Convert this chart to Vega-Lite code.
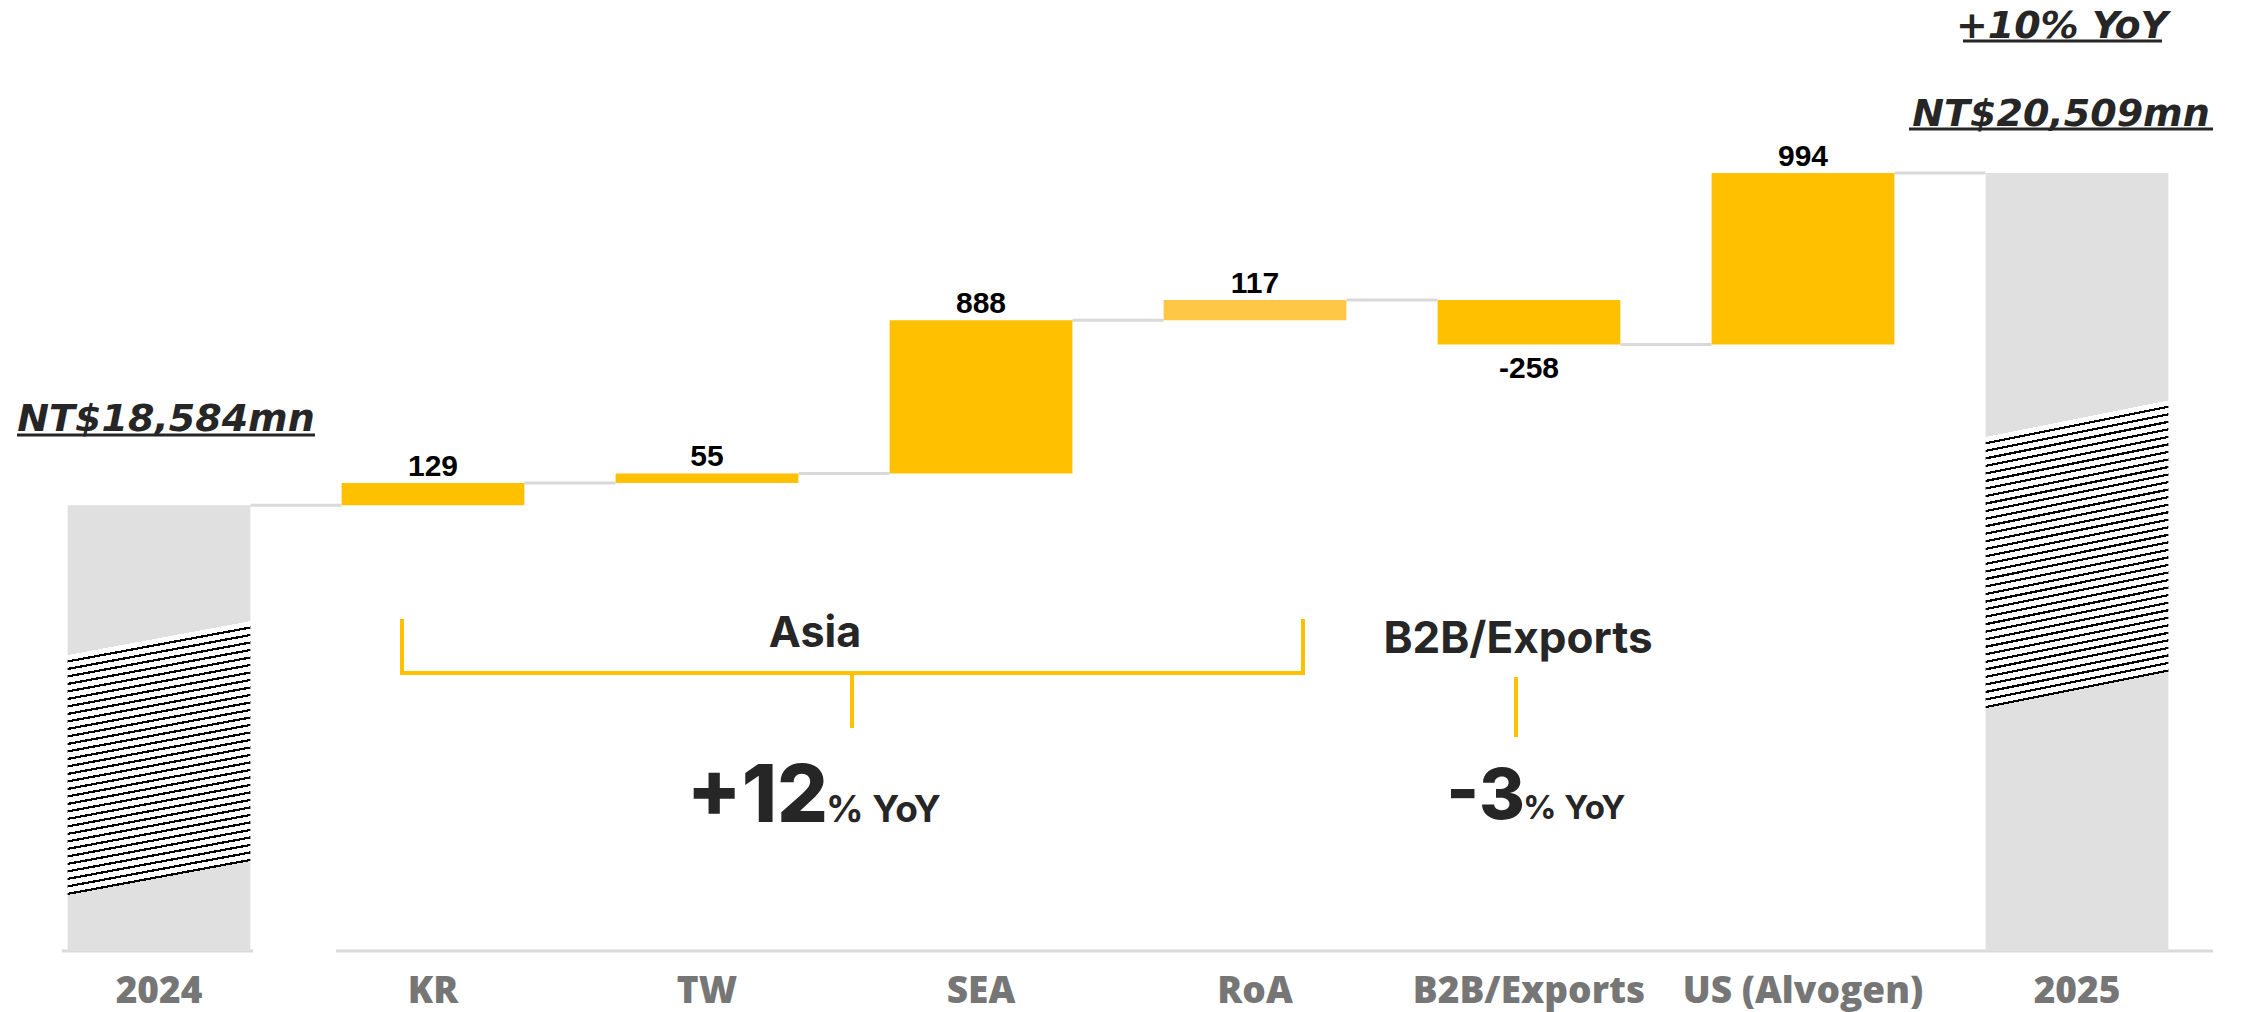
{
"$schema":"https://vega.github.io/schema/vega-lite/v6.json",
"autosize":{"type":"none"},
"width":2192,"height":949,
"padding":{"left":22,"top":2,"right":28,"bottom":61},
"background":"white",
"config":{"view":{"stroke":null},
"axisX":{"labelFont":"Open Sans","labelFontWeight":800,"labelFontSize":37,"labelColor":"#767676","labelPadding":51,"labelBaseline":"alphabetic","labelAngle":0,"labelLimit":0,"domain":false,"ticks":false,"tickSize":0,"grid":false},
"axisY":{"disable":true}},
"data":{"values":[
{"cat":"2024","start":0,"end":18584,"label":"","type":"total","next":"KR"},
{"cat":"KR","start":18584,"end":18713,"label":"129","type":"up","next":"TW"},
{"cat":"TW","start":18713,"end":18768,"label":"55","type":"up","next":"SEA"},
{"cat":"SEA","start":18768,"end":19656,"label":"888","type":"up","next":"RoA"},
{"cat":"RoA","start":19656,"end":19773,"label":"117","type":"light","next":"B2B/Exports"},
{"cat":"B2B/Exports","start":19773,"end":19515,"label":"-258","type":"down","next":"US (Alvogen)"},
{"cat":"US (Alvogen)","start":19515,"end":20509,"label":"994","type":"up","next":"2025"},
{"cat":"2025","start":0,"end":20509,"label":"","type":"total","next":null}
]},
"layer":[
{"data":{"values":[{}]},"mark":{"type":"rule","color":"#D9D9D9","strokeWidth":3,"xOffset":-97,"x2Offset":94},
"encoding":{"x":{"datum":"2024","type":"nominal"},"x2":{"datum":"2024"},"y":{"datum":16000,"type":"quantitative","axis":null}}},
{"data":{"values":[{}]},"mark":{"type":"rule","color":"#D9D9D9","strokeWidth":3,"xOffset":-97,"x2Offset":136},
"encoding":{"x":{"datum":"KR","type":"nominal"},"x2":{"datum":"2025"},"y":{"datum":16000,"type":"quantitative","axis":null}}},
{"transform":[{"filter":"datum.next != null"}],
"mark":{"type":"rule","color":"#D9D9D9","strokeWidth":3,"xOffset":91.5,"x2Offset":-91.5},
"encoding":{"x":{"field":"cat","type":"nominal","sort":null,"title":null,"scale":{"domain":["2024","KR","TW","SEA","RoA","B2B/Exports","US (Alvogen)","2025"],"paddingInner":0.333,"paddingOuter":0.1665}},
"x2":{"field":"next"},
"y":{"field":"end","type":"quantitative","axis":null,"scale":{"domain":[16000,21500],"nice":false,"zero":false,"clamp":true}}}},
{"transform":[{"filter":"datum.type != 'total'"}],
"mark":{"type":"bar"},
"encoding":{"x":{"field":"cat","type":"nominal","sort":null,"title":null},
"y":{"field":"end","type":"quantitative","axis":null},"y2":{"field":"start"},
"color":{"field":"type","type":"nominal","legend":null,"scale":{"domain":["up","light","down"],"range":["#FFC000","#FFC745","#FFC000"]}}}},
{"transform":[{"filter":"datum.cat == '2024'"}],
"mark":{"type":"bar","color":{"gradient":"linear","x1":0,"y1":0,"x2":0.0815,"y2":1.07,"stops":[
{"offset":0,"color":"#e0e0e0"},{"offset":0.3125,"color":"#e0e0e0"},{"offset":0.3125,"color":"#fff"},
{"offset":0.3234375,"color":"#fff"},{"offset":0.3234375,"color":"#000"},{"offset":0.328125,"color":"#000"},{"offset":0.328125,"color":"#fff"},
{"offset":0.3390625,"color":"#fff"},{"offset":0.3390625,"color":"#000"},{"offset":0.34375,"color":"#000"},{"offset":0.34375,"color":"#fff"},
{"offset":0.3546875,"color":"#fff"},{"offset":0.3546875,"color":"#000"},{"offset":0.359375,"color":"#000"},{"offset":0.359375,"color":"#fff"},
{"offset":0.3703125,"color":"#fff"},{"offset":0.3703125,"color":"#000"},{"offset":0.375,"color":"#000"},{"offset":0.375,"color":"#fff"},
{"offset":0.3859375,"color":"#fff"},{"offset":0.3859375,"color":"#000"},{"offset":0.390625,"color":"#000"},{"offset":0.390625,"color":"#fff"},
{"offset":0.4015625,"color":"#fff"},{"offset":0.4015625,"color":"#000"},{"offset":0.40625,"color":"#000"},{"offset":0.40625,"color":"#fff"},
{"offset":0.4171875,"color":"#fff"},{"offset":0.4171875,"color":"#000"},{"offset":0.421875,"color":"#000"},{"offset":0.421875,"color":"#fff"},
{"offset":0.4328125,"color":"#fff"},{"offset":0.4328125,"color":"#000"},{"offset":0.4375,"color":"#000"},{"offset":0.4375,"color":"#fff"},
{"offset":0.4484375,"color":"#fff"},{"offset":0.4484375,"color":"#000"},{"offset":0.453125,"color":"#000"},{"offset":0.453125,"color":"#fff"},
{"offset":0.4640625,"color":"#fff"},{"offset":0.4640625,"color":"#000"},{"offset":0.46875,"color":"#000"},{"offset":0.46875,"color":"#fff"},
{"offset":0.4796875,"color":"#fff"},{"offset":0.4796875,"color":"#000"},{"offset":0.484375,"color":"#000"},{"offset":0.484375,"color":"#fff"},
{"offset":0.4953125,"color":"#fff"},{"offset":0.4953125,"color":"#000"},{"offset":0.5,"color":"#000"},{"offset":0.5,"color":"#fff"},
{"offset":0.5109375,"color":"#fff"},{"offset":0.5109375,"color":"#000"},{"offset":0.515625,"color":"#000"},{"offset":0.515625,"color":"#fff"},
{"offset":0.5265625,"color":"#fff"},{"offset":0.5265625,"color":"#000"},{"offset":0.53125,"color":"#000"},{"offset":0.53125,"color":"#fff"},
{"offset":0.5421875,"color":"#fff"},{"offset":0.5421875,"color":"#000"},{"offset":0.546875,"color":"#000"},{"offset":0.546875,"color":"#fff"},
{"offset":0.5578125,"color":"#fff"},{"offset":0.5578125,"color":"#000"},{"offset":0.5625,"color":"#000"},{"offset":0.5625,"color":"#fff"},
{"offset":0.5734375,"color":"#fff"},{"offset":0.5734375,"color":"#000"},{"offset":0.578125,"color":"#000"},{"offset":0.578125,"color":"#fff"},
{"offset":0.5890625,"color":"#fff"},{"offset":0.5890625,"color":"#000"},{"offset":0.59375,"color":"#000"},{"offset":0.59375,"color":"#fff"},
{"offset":0.6046875,"color":"#fff"},{"offset":0.6046875,"color":"#000"},{"offset":0.609375,"color":"#000"},{"offset":0.609375,"color":"#fff"},
{"offset":0.6203125,"color":"#fff"},{"offset":0.6203125,"color":"#000"},{"offset":0.625,"color":"#000"},{"offset":0.625,"color":"#fff"},
{"offset":0.6359375,"color":"#fff"},{"offset":0.6359375,"color":"#000"},{"offset":0.640625,"color":"#000"},{"offset":0.640625,"color":"#fff"},
{"offset":0.6515625,"color":"#fff"},{"offset":0.6515625,"color":"#000"},{"offset":0.65625,"color":"#000"},{"offset":0.65625,"color":"#fff"},
{"offset":0.6671875,"color":"#fff"},{"offset":0.6671875,"color":"#000"},{"offset":0.671875,"color":"#000"},{"offset":0.671875,"color":"#fff"},
{"offset":0.6828125,"color":"#fff"},{"offset":0.6828125,"color":"#000"},{"offset":0.6875,"color":"#000"},{"offset":0.6875,"color":"#fff"},
{"offset":0.6984375,"color":"#fff"},{"offset":0.6984375,"color":"#000"},{"offset":0.703125,"color":"#000"},{"offset":0.703125,"color":"#fff"},
{"offset":0.7140625,"color":"#fff"},{"offset":0.7140625,"color":"#000"},{"offset":0.71875,"color":"#000"},{"offset":0.71875,"color":"#fff"},
{"offset":0.7296875,"color":"#fff"},{"offset":0.7296875,"color":"#000"},{"offset":0.734375,"color":"#000"},{"offset":0.734375,"color":"#fff"},
{"offset":0.7453125,"color":"#fff"},{"offset":0.7453125,"color":"#000"},{"offset":0.75,"color":"#000"},{"offset":0.75,"color":"#fff"},
{"offset":0.7609375,"color":"#fff"},{"offset":0.7609375,"color":"#000"},{"offset":0.765625,"color":"#000"},{"offset":0.765625,"color":"#fff"},
{"offset":0.7765625,"color":"#fff"},{"offset":0.7765625,"color":"#000"},{"offset":0.78125,"color":"#000"},{"offset":0.78125,"color":"#fff"},
{"offset":0.7921875,"color":"#fff"},{"offset":0.7921875,"color":"#000"},{"offset":0.796875,"color":"#000"},{"offset":0.796875,"color":"#fff"},
{"offset":0.8078125,"color":"#fff"},{"offset":0.8078125,"color":"#000"},{"offset":0.8125,"color":"#000"},
{"offset":0.8125,"color":"#e0e0e0"},{"offset":1,"color":"#e0e0e0"}]}},
"encoding":{"x":{"field":"cat","type":"nominal","sort":null,"title":null},
"y":{"field":"end","type":"quantitative","axis":null},"y2":{"field":"start"}}},
{"transform":[{"filter":"datum.cat == '2025'"}],
"mark":{"type":"bar","color":{"gradient":"linear","x1":0,"y1":0,"x2":0.0491,"y2":1.0447,"stops":[
{"offset":0,"color":"#e0e0e0"},{"offset":0.324,"color":"#e0e0e0"},{"offset":0.324,"color":"#fff"},
{"offset":0.330475,"color":"#fff"},{"offset":0.330475,"color":"#000"},{"offset":0.33325,"color":"#000"},{"offset":0.33325,"color":"#fff"},
{"offset":0.339725,"color":"#fff"},{"offset":0.339725,"color":"#000"},{"offset":0.3425,"color":"#000"},{"offset":0.3425,"color":"#fff"},
{"offset":0.348975,"color":"#fff"},{"offset":0.348975,"color":"#000"},{"offset":0.35175,"color":"#000"},{"offset":0.35175,"color":"#fff"},
{"offset":0.358225,"color":"#fff"},{"offset":0.358225,"color":"#000"},{"offset":0.361,"color":"#000"},{"offset":0.361,"color":"#fff"},
{"offset":0.367475,"color":"#fff"},{"offset":0.367475,"color":"#000"},{"offset":0.37025,"color":"#000"},{"offset":0.37025,"color":"#fff"},
{"offset":0.376725,"color":"#fff"},{"offset":0.376725,"color":"#000"},{"offset":0.3795,"color":"#000"},{"offset":0.3795,"color":"#fff"},
{"offset":0.385975,"color":"#fff"},{"offset":0.385975,"color":"#000"},{"offset":0.38875,"color":"#000"},{"offset":0.38875,"color":"#fff"},
{"offset":0.395225,"color":"#fff"},{"offset":0.395225,"color":"#000"},{"offset":0.398,"color":"#000"},{"offset":0.398,"color":"#fff"},
{"offset":0.404475,"color":"#fff"},{"offset":0.404475,"color":"#000"},{"offset":0.40725,"color":"#000"},{"offset":0.40725,"color":"#fff"},
{"offset":0.413725,"color":"#fff"},{"offset":0.413725,"color":"#000"},{"offset":0.4165,"color":"#000"},{"offset":0.4165,"color":"#fff"},
{"offset":0.422975,"color":"#fff"},{"offset":0.422975,"color":"#000"},{"offset":0.42575,"color":"#000"},{"offset":0.42575,"color":"#fff"},
{"offset":0.432225,"color":"#fff"},{"offset":0.432225,"color":"#000"},{"offset":0.435,"color":"#000"},{"offset":0.435,"color":"#fff"},
{"offset":0.441475,"color":"#fff"},{"offset":0.441475,"color":"#000"},{"offset":0.44425,"color":"#000"},{"offset":0.44425,"color":"#fff"},
{"offset":0.450725,"color":"#fff"},{"offset":0.450725,"color":"#000"},{"offset":0.4535,"color":"#000"},{"offset":0.4535,"color":"#fff"},
{"offset":0.459975,"color":"#fff"},{"offset":0.459975,"color":"#000"},{"offset":0.46275,"color":"#000"},{"offset":0.46275,"color":"#fff"},
{"offset":0.469225,"color":"#fff"},{"offset":0.469225,"color":"#000"},{"offset":0.472,"color":"#000"},{"offset":0.472,"color":"#fff"},
{"offset":0.478475,"color":"#fff"},{"offset":0.478475,"color":"#000"},{"offset":0.48125,"color":"#000"},{"offset":0.48125,"color":"#fff"},
{"offset":0.487725,"color":"#fff"},{"offset":0.487725,"color":"#000"},{"offset":0.4905,"color":"#000"},{"offset":0.4905,"color":"#fff"},
{"offset":0.496975,"color":"#fff"},{"offset":0.496975,"color":"#000"},{"offset":0.49975,"color":"#000"},{"offset":0.49975,"color":"#fff"},
{"offset":0.506225,"color":"#fff"},{"offset":0.506225,"color":"#000"},{"offset":0.509,"color":"#000"},{"offset":0.509,"color":"#fff"},
{"offset":0.515475,"color":"#fff"},{"offset":0.515475,"color":"#000"},{"offset":0.51825,"color":"#000"},{"offset":0.51825,"color":"#fff"},
{"offset":0.524725,"color":"#fff"},{"offset":0.524725,"color":"#000"},{"offset":0.5275,"color":"#000"},{"offset":0.5275,"color":"#fff"},
{"offset":0.533975,"color":"#fff"},{"offset":0.533975,"color":"#000"},{"offset":0.53675,"color":"#000"},{"offset":0.53675,"color":"#fff"},
{"offset":0.543225,"color":"#fff"},{"offset":0.543225,"color":"#000"},{"offset":0.546,"color":"#000"},{"offset":0.546,"color":"#fff"},
{"offset":0.552475,"color":"#fff"},{"offset":0.552475,"color":"#000"},{"offset":0.55525,"color":"#000"},{"offset":0.55525,"color":"#fff"},
{"offset":0.561725,"color":"#fff"},{"offset":0.561725,"color":"#000"},{"offset":0.5645,"color":"#000"},{"offset":0.5645,"color":"#fff"},
{"offset":0.570975,"color":"#fff"},{"offset":0.570975,"color":"#000"},{"offset":0.57375,"color":"#000"},{"offset":0.57375,"color":"#fff"},
{"offset":0.580225,"color":"#fff"},{"offset":0.580225,"color":"#000"},{"offset":0.583,"color":"#000"},{"offset":0.583,"color":"#fff"},
{"offset":0.589475,"color":"#fff"},{"offset":0.589475,"color":"#000"},{"offset":0.59225,"color":"#000"},{"offset":0.59225,"color":"#fff"},
{"offset":0.598725,"color":"#fff"},{"offset":0.598725,"color":"#000"},{"offset":0.6015,"color":"#000"},{"offset":0.6015,"color":"#fff"},
{"offset":0.607975,"color":"#fff"},{"offset":0.607975,"color":"#000"},{"offset":0.61075,"color":"#000"},{"offset":0.61075,"color":"#fff"},
{"offset":0.617225,"color":"#fff"},{"offset":0.617225,"color":"#000"},{"offset":0.62,"color":"#000"},{"offset":0.62,"color":"#fff"},
{"offset":0.626475,"color":"#fff"},{"offset":0.626475,"color":"#000"},{"offset":0.62925,"color":"#000"},{"offset":0.62925,"color":"#fff"},
{"offset":0.635725,"color":"#fff"},{"offset":0.635725,"color":"#000"},{"offset":0.6385,"color":"#000"},{"offset":0.6385,"color":"#fff"},
{"offset":0.644975,"color":"#fff"},{"offset":0.644975,"color":"#000"},{"offset":0.64775,"color":"#000"},{"offset":0.64775,"color":"#fff"},
{"offset":0.654225,"color":"#fff"},{"offset":0.654225,"color":"#000"},{"offset":0.657,"color":"#000"},
{"offset":0.657,"color":"#e0e0e0"},{"offset":1,"color":"#e0e0e0"}]}},
"encoding":{"x":{"field":"cat","type":"nominal","sort":null,"title":null},
"y":{"field":"end","type":"quantitative","axis":null},"y2":{"field":"start"}}},
{"transform":[{"filter":"datum.type == 'up' || datum.type == 'light'"}],
"mark":{"type":"text","font":"Liberation Sans","fontWeight":"bold","fontSize":30,"color":"#000","baseline":"alphabetic","dy":-7},
"encoding":{"x":{"field":"cat","type":"nominal","sort":null,"title":null},"y":{"field":"end","type":"quantitative","axis":null},"text":{"field":"label"}}},
{"transform":[{"filter":"datum.type == 'down'"}],
"mark":{"type":"text","font":"Liberation Sans","fontWeight":"bold","fontSize":30,"color":"#000","baseline":"top","dy":9},
"encoding":{"x":{"field":"cat","type":"nominal","sort":null,"title":null},"y":{"field":"end","type":"quantitative","axis":null},"text":{"field":"label"}}},
{"data":{"values":[{"note":"NT$18,584mn"}]},
"mark":{"type":"text","font":"DejaVu Sans","fontStyle":"italic","fontWeight":"bold","fontSize":38,"color":"#262626","align":"center","baseline":"alphabetic","xOffset":7},
"encoding":{"x":{"datum":"2024","type":"nominal"},"y":{"datum":19014,"type":"quantitative","axis":null},"text":{"field":"note"}}},
{"data":{"values":[{}]},"mark":{"type":"rule","color":"#262626","strokeWidth":3,"xOffset":-142,"x2Offset":156},
"encoding":{"x":{"datum":"2024","type":"nominal"},"x2":{"datum":"2024"},"y":{"datum":18990,"type":"quantitative","axis":null}}},
{"data":{"values":[{"note":"NT$20,509mn"}]},
"mark":{"type":"text","font":"DejaVu Sans","fontStyle":"italic","fontWeight":"bold","fontSize":38,"color":"#262626","align":"center","baseline":"alphabetic","xOffset":-16},
"encoding":{"x":{"datum":"2025","type":"nominal"},"y":{"datum":20781,"type":"quantitative","axis":null},"text":{"field":"note"}}},
{"data":{"values":[{}]},"mark":{"type":"rule","color":"#262626","strokeWidth":3,"xOffset":-168,"x2Offset":136},
"encoding":{"x":{"datum":"2025","type":"nominal"},"x2":{"datum":"2025"},"y":{"datum":20764,"type":"quantitative","axis":null}}},
{"data":{"values":[{"note":"+10% YoY"}]},
"mark":{"type":"text","font":"DejaVu Sans","fontStyle":"italic","fontWeight":"bold","fontSize":38,"color":"#262626","align":"center","baseline":"alphabetic","xOffset":-15},
"encoding":{"x":{"datum":"2025","type":"nominal"},"y":{"datum":21291,"type":"quantitative","axis":null},"text":{"field":"note"}}},
{"data":{"values":[{}]},"mark":{"type":"rule","color":"#262626","strokeWidth":3,"xOffset":-114,"x2Offset":85},
"encoding":{"x":{"datum":"2025","type":"nominal"},"x2":{"datum":"2025"},"y":{"datum":21274,"type":"quantitative","axis":null}}},
{"data":{"values":[{}]},"mark":{"type":"rule","color":"#FFC000","strokeWidth":4,"xOffset":-31},
"encoding":{"x":{"datum":"KR","type":"nominal"},"y":{"datum":17924,"type":"quantitative","axis":null},"y2":{"datum":17611}}},
{"data":{"values":[{}]},"mark":{"type":"rule","color":"#FFC000","strokeWidth":4,"xOffset":48},
"encoding":{"x":{"datum":"RoA","type":"nominal"},"y":{"datum":17924,"type":"quantitative","axis":null},"y2":{"datum":17611}}},
{"data":{"values":[{}]},"mark":{"type":"rule","color":"#FFC000","strokeWidth":4,"xOffset":-33,"x2Offset":50},
"encoding":{"x":{"datum":"KR","type":"nominal"},"x2":{"datum":"RoA"},"y":{"datum":17611,"type":"quantitative","axis":null}}},
{"data":{"values":[{}]},"mark":{"type":"rule","color":"#FFC000","strokeWidth":4,"xOffset":145},
"encoding":{"x":{"datum":"TW","type":"nominal"},"y":{"datum":17611,"type":"quantitative","axis":null},"y2":{"datum":17292}}},
{"data":{"values":[{}]},"mark":{"type":"rule","color":"#FFC000","strokeWidth":4,"xOffset":-13},
"encoding":{"x":{"datum":"B2B/Exports","type":"nominal"},"y":{"datum":17588,"type":"quantitative","axis":null},"y2":{"datum":17240}}},
{"data":{"values":[{"note":"Asia"}]},
"mark":{"type":"text","font":"Inter","fontWeight":"bold","fontSize":43,"color":"#262626","align":"center","baseline":"alphabetic","xOffset":108},
"encoding":{"x":{"datum":"TW","type":"nominal"},"y":{"datum":17762,"type":"quantitative","axis":null},"text":{"field":"note"}}},
{"data":{"values":[{"note":"B2B/Exports"}]},
"mark":{"type":"text","font":"Inter","fontWeight":"bold","fontSize":44,"color":"#262626","align":"center","baseline":"alphabetic","xOffset":-11},
"encoding":{"x":{"datum":"B2B/Exports","type":"nominal"},"y":{"datum":17727,"type":"quantitative","axis":null},"text":{"field":"note"}}},
{"data":{"values":[{"note":"+12"}]},
"mark":{"type":"text","font":"Inter","fontWeight":800,"fontSize":80,"color":"#262626","align":"right","baseline":"alphabetic","xOffset":121},
"encoding":{"x":{"datum":"TW","type":"nominal"},"y":{"datum":16748,"type":"quantitative","axis":null},"text":{"field":"note"}}},
{"data":{"values":[{"note":"% YoY"}]},
"mark":{"type":"text","font":"Inter","fontWeight":"bold","fontSize":37,"color":"#262626","align":"left","baseline":"alphabetic","xOffset":119},
"encoding":{"x":{"datum":"TW","type":"nominal"},"y":{"datum":16748,"type":"quantitative","axis":null},"text":{"field":"note"}}},
{"data":{"values":[{"note":"-3"}]},
"mark":{"type":"text","font":"Inter","fontWeight":800,"fontSize":70,"color":"#262626","align":"right","baseline":"alphabetic","xOffset":-4},
"encoding":{"x":{"datum":"B2B/Exports","type":"nominal"},"y":{"datum":16765,"type":"quantitative","axis":null},"text":{"field":"note"}}},
{"data":{"values":[{"note":"% YoY"}]},
"mark":{"type":"text","font":"Inter","fontWeight":"bold","fontSize":33,"color":"#262626","align":"left","baseline":"alphabetic","xOffset":-6},
"encoding":{"x":{"datum":"B2B/Exports","type":"nominal"},"y":{"datum":16765,"type":"quantitative","axis":null},"text":{"field":"note"}}}
]
}
